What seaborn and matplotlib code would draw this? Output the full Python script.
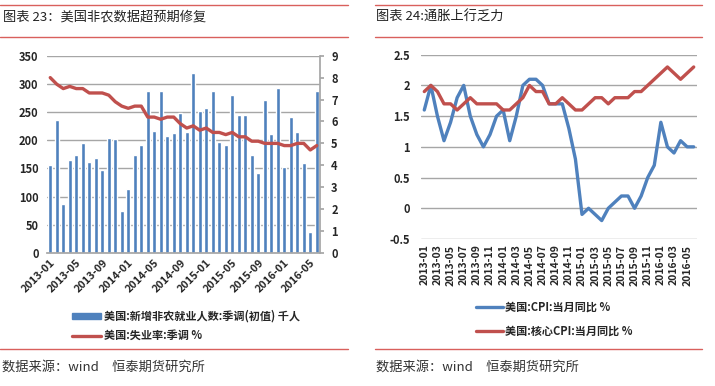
import matplotlib.pyplot as plt
import numpy as np
import pandas as pd
import seaborn as sns
from matplotlib.lines import Line2D
from matplotlib.patches import Patch

# monthly labels 2013-01 .. 2016-06
months = pd.date_range('2013-01', '2016-06', freq='MS').strftime('%Y-%m').tolist()

# non-farm payrolls, thousands (bars)
payrolls = [156, 236, 87, 165, 174, 195, 162, 169, 148, 204, 202, 74,
            113, 174, 191, 287, 217, 287, 208, 212, 248, 214, 320, 252,
            257, 287, 197, 191, 280, 244, 244, 173, 142, 271, 211, 292,
            152, 242, 215, 160, 38, 287]
# unemployment rate, % (right axis)
unemployment = [8.0, 7.7, 7.5, 7.6, 7.5, 7.5, 7.3, 7.3, 7.3, 7.2, 6.9, 6.7,
                6.6, 6.7, 6.7, 6.2, 6.2, 6.1, 6.2, 6.2, 5.9, 5.7, 5.8, 5.6,
                5.7, 5.5, 5.5, 5.4, 5.5, 5.3, 5.3, 5.1, 5.1, 5.0, 5.0, 5.0,
                4.9, 4.9, 5.0, 5.0, 4.7, 4.9]
# CPI yoy and core CPI yoy, %
cpi = [1.6, 2.0, 1.5, 1.1, 1.4, 1.8, 2.0, 1.5, 1.2, 1.0, 1.2, 1.5,
       1.6, 1.1, 1.5, 2.0, 2.1, 2.1, 2.0, 1.7, 1.7, 1.7, 1.3, 0.8,
       -0.1, 0.0, -0.1, -0.2, 0.0, 0.1, 0.2, 0.2, 0.0, 0.2, 0.5, 0.7,
       1.4, 1.0, 0.9, 1.1, 1.0, 1.0]
core_cpi = [1.9, 2.0, 1.9, 1.7, 1.7, 1.6, 1.7, 1.8, 1.7, 1.7, 1.7, 1.7,
            1.6, 1.6, 1.7, 1.8, 2.0, 1.9, 1.9, 1.7, 1.7, 1.8, 1.7, 1.6,
            1.6, 1.7, 1.8, 1.8, 1.7, 1.8, 1.8, 1.8, 1.9, 1.9, 2.0, 2.1,
            2.2, 2.3, 2.2, 2.1, 2.2, 2.3]

left_title = '图表 23：美国非农数据超预期修复'
right_title = '图表 24:通胀上行乏力'
source = '数据来源：wind　恒泰期货研究所'
lab_pay = '美国:新增非农就业人数:季调(初值) 千人'
lab_unemp = '美国:失业率:季调 %'
lab_cpi = '美国:CPI:当月同比 %'
lab_core = '美国:核心CPI:当月同比 %'

BLUE = '#4F81BD'
RED = '#C0504D'
GRID = '#A6A6A6'
RULE = '#D9605C'

sns.set_theme(style='white')
plt.rcParams['font.family'] = ['Noto Sans CJK SC', 'DejaVu Sans']

df = pd.DataFrame({'month': months, 'payrolls': payrolls,
                   'unemployment': unemployment, 'cpi': cpi, 'core': core_cpi})
n = len(df)
idx = np.arange(n)

fig = plt.figure(figsize=(7.15, 3.86), dpi=100)
W, H = 715, 386


def fx(px):
    return px / W


def fy(py):
    return 1 - py / H


# ---- left chart: payrolls + unemployment ----
ax1 = fig.add_axes([fx(47), fy(253), fx(320 - 47), (253 - 55.7) / H])
sns.barplot(data=df, x='month', y='payrolls', color=BLUE, width=0.6,
            saturation=1, ax=ax1)
ax1.set_xlim(-0.5, n - 0.5)
ax1.set_ylim(0, 350)
ax1.set_yticks(range(0, 351, 50))
ax1.yaxis.grid(True, color=GRID, lw=1)
ax1.set_axisbelow(True)
ax1.set_xlabel('')
ax1.set_ylabel('')
ax1.set_xticks(idx[::4])
ax1.set_xticklabels(df['month'][::4], rotation=45, ha='right',
                    rotation_mode='anchor', fontsize=7.8, fontweight='bold')
ax1.tick_params(axis='y', labelsize=8, length=0, pad=6)
ax1.tick_params(axis='x', length=0, pad=3)
for lbl in ax1.get_yticklabels():
    lbl.set_fontweight('bold')
for s in ['left', 'top', 'right']:
    ax1.spines[s].set_visible(False)
ax1.spines['bottom'].set_color(GRID)

ax2 = ax1.twinx()
sns.lineplot(x=idx, y=df['unemployment'], color=RED, lw=2.4, ax=ax2)
ax2.set_ylim(0, 9)
ax2.set_yticks(range(0, 10))
ax2.set_ylabel('')
ax2.tick_params(axis='y', labelsize=8, length=3, color=GRID, pad=5)
for lbl in ax2.get_yticklabels():
    lbl.set_fontweight('bold')
for s in ['left', 'top', 'bottom']:
    ax2.spines[s].set_visible(False)
ax2.spines['right'].set_color(GRID)

fig.legend(handles=[Patch(color=BLUE), Line2D([], [], color=RED, lw=2.4)],
           labels=[lab_pay, lab_unemp], loc='upper left',
           bbox_to_anchor=(fx(62), fy(300)), frameon=False,
           handlelength=2.6, handleheight=0.5, labelspacing=0.55,
           handletextpad=0.3, prop={'weight': 'bold', 'size': 8})

# ---- right chart: CPI ----
ax3 = fig.add_axes([fx(421), fy(239), fx(697 - 421), (239 - 54.7) / H])
sns.lineplot(x=idx, y=df['cpi'], color=BLUE, lw=2.4, ax=ax3)
sns.lineplot(x=idx, y=df['core'], color=RED, lw=2.4, ax=ax3)
ax3.set_xlim(-0.5, n - 0.5)
ax3.set_ylim(-0.5, 2.5)
ax3.set_yticks(np.arange(-0.5, 2.51, 0.5))
ax3.set_yticklabels(['-0.5', '0', '0.5', '1', '1.5', '2', '2.5'])
ax3.yaxis.grid(True, color=GRID, lw=1)
ax3.set_xticks(idx[::2])
ax3.set_xticklabels(df['month'][::2], rotation=90, fontsize=7.5,
                    fontweight='bold')
ax3.set_xlabel('')
ax3.set_ylabel('')
ax3.tick_params(axis='y', labelsize=8, length=0, pad=8)
ax3.tick_params(axis='x', length=0, pad=4)
for lbl in ax3.get_yticklabels():
    lbl.set_fontweight('bold')
for s in ax3.spines.values():
    s.set_visible(False)

fig.legend(handles=[Line2D([], [], color=BLUE, lw=2.4),
                    Line2D([], [], color=RED, lw=2.4)],
           labels=[lab_cpi, lab_core], loc='upper left',
           bbox_to_anchor=(fx(466), fy(291)), frameon=False,
           handlelength=2.4, labelspacing=0.95, handletextpad=0.2,
           prop={'weight': 'bold', 'size': 8})

# ---- titles, rules and source notes ----
for x0, x1 in [(0, 348), (375, 702)]:
    for yy in (5, 36.5, 349):
        fig.add_artist(Line2D([fx(x0), fx(x1)], [fy(yy), fy(yy)],
                              color=RULE, lw=1))

fig.text(fx(3), fy(17), left_title, fontsize=9.5, va='center', ha='left',
         color='#222222')
fig.text(fx(376), fy(17), right_title, fontsize=9.5, va='center', ha='left',
         color='#222222')
fig.text(fx(2), fy(367), source, fontsize=9.5, va='center', ha='left',
         color='#333333')
fig.text(fx(376), fy(367), source, fontsize=9.5, va='center', ha='left',
         color='#333333')

fig.savefig('out.png', dpi=100)
